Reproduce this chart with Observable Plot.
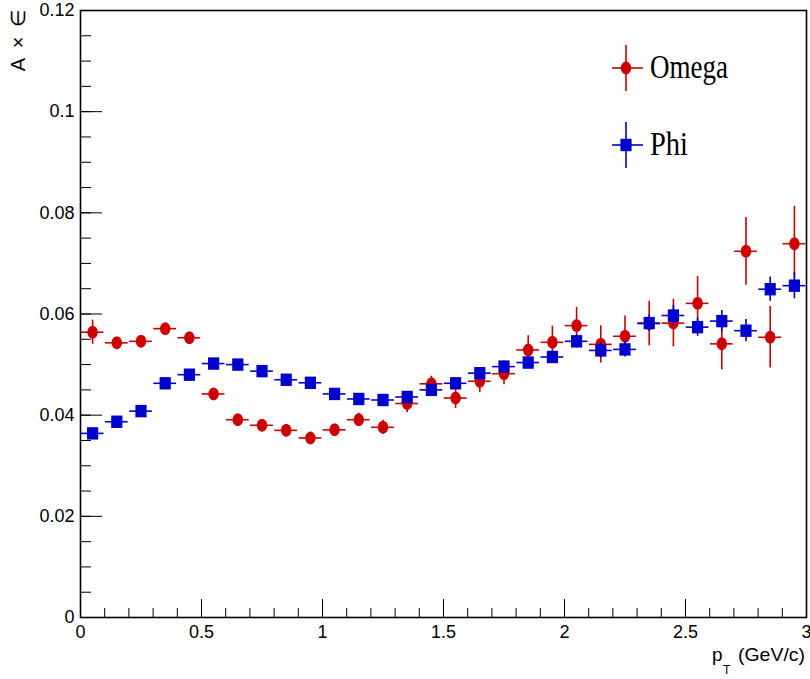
<!DOCTYPE html>
<html>
<head>
<meta charset="utf-8">
<script src="https://cdn.jsdelivr.net/npm/d3@7"></script>
<script src="https://cdn.jsdelivr.net/npm/@observablehq/plot@0.6"></script>
<style>
  body { margin: 0; background: #fff; }
  #chart { position: relative; width: 810px; height: 679px; }
</style>
</head>
<body>
<div id="chart"></div>
<script>
// ---- data ----
const ptBins = [0.05, 0.15, 0.25, 0.35, 0.45, 0.55, 0.65, 0.75, 0.85, 0.95,
                1.05, 1.15, 1.25, 1.35, 1.45, 1.55, 1.65, 1.75, 1.85, 1.95,
                2.05, 2.15, 2.25, 2.35, 2.45, 2.55, 2.65, 2.75, 2.85, 2.95];
const binHalfWidth = 0.047;
const omegaValues = [0.0564, 0.0543, 0.0546, 0.0571, 0.0553, 0.0442, 0.0391, 0.0380, 0.0370, 0.0355,
                     0.0371, 0.0391, 0.0376, 0.0423, 0.0462, 0.0434, 0.0467, 0.0482, 0.0529, 0.0544,
                     0.0577, 0.0540, 0.0556, 0.0581, 0.0582, 0.0621, 0.0541, 0.0724, 0.0554, 0.0739];
const omegaErrors = [0.0024, 0.0010, 0.0010, 0.0010, 0.0010, 0.0008, 0.0007, 0.0007, 0.0007, 0.0007,
                     0.0010, 0.0013, 0.0014, 0.0018, 0.0015, 0.0021, 0.0022, 0.0022, 0.0028, 0.0032,
                     0.0036, 0.0037, 0.0040, 0.0044, 0.0047, 0.0053, 0.0051, 0.0067, 0.0061, 0.0074];
const phiValues = [0.0364, 0.0387, 0.0408, 0.0463, 0.0480, 0.0502, 0.0500, 0.0487, 0.0470, 0.0464,
                   0.0442, 0.0432, 0.0430, 0.0436, 0.0450, 0.0463, 0.0483, 0.0496, 0.0504, 0.0515,
                   0.0546, 0.0528, 0.0530, 0.0582, 0.0597, 0.0574, 0.0586, 0.0567, 0.0649, 0.0656];
const phiErrors = [0.0006, 0.0006, 0.0006, 0.0007, 0.0007, 0.0007, 0.0007, 0.0007, 0.0007, 0.0007,
                   0.0007, 0.0007, 0.0008, 0.0008, 0.0009, 0.0010, 0.0010, 0.0011, 0.0012, 0.0012,
                   0.0013, 0.0015, 0.0015, 0.0016, 0.0020, 0.0018, 0.0021, 0.0022, 0.0024, 0.0026];
const seriesNames = ["Omega", "Phi"];
const seriesColors = ["#cc0000", "#0000cc"];
const xTickLabels = [0, 0.5, 1, 1.5, 2, 2.5, 3];
const yTickLabels = [0, 0.02, 0.04, 0.06, 0.08, 0.1, 0.12];
const xTitle = "p";
const xTitleSub = "T";
const xTitleUnit = "(GeV/c)";
const yTitle = "A × ∈";

// ---- tables ----
const omega = ptBins.map((pt, i) => ({pt, val: omegaValues[i], err: omegaErrors[i]}));
const phi = ptBins.map((pt, i) => ({pt, val: phiValues[i], err: phiErrors[i]}));
const xMinor = d3.range(0, 3.0001, 0.1);
const yMinor = d3.range(0, 0.12001, 0.005);

// marker shapes (ROOT markers look slightly tall in the reference)
const ellipseSym = {draw(ctx) {
  const rx = 5.2, ry = 6.4, n = 28;
  for (let i = 0; i <= n; i++) {
    const a = i / n * 2 * Math.PI, px = rx * Math.cos(a), py = ry * Math.sin(a);
    if (i === 0) ctx.moveTo(px, py); else ctx.lineTo(px, py);
  }
  ctx.closePath();
}};
const rectSym = {draw(ctx) {
  const hw = 5.6, hh = 6.2;
  ctx.moveTo(-hw, -hh); ctx.lineTo(hw, -hh); ctx.lineTo(hw, hh); ctx.lineTo(-hw, hh); ctx.closePath();
}};

function errorMarks(data, color, sym) {
  return [
    Plot.ruleX(data, {x: "pt", y1: d => d.val - d.err, y2: d => d.val + d.err, stroke: color, strokeWidth: 1.6}),
    Plot.ruleY(data, {y: "val", x1: d => d.pt - binHalfWidth, x2: d => d.pt + binHalfWidth, stroke: color, strokeWidth: 1.6}),
    Plot.dot(data, {x: "pt", y: "val", symbol: sym, fill: color, stroke: "none"})
  ];
}

const fmt = d => String(d);

const plot = Plot.plot({
  width: 810,
  height: 679,
  marginLeft: 80,
  marginRight: 4,
  marginTop: 10,
  marginBottom: 62,
  style: {fontFamily: "'Liberation Sans', Arial, sans-serif", color: "black", background: "white"},
  x: {domain: [0, 3]},
  y: {domain: [0, 0.12]},
  marks: [
    Plot.axisX(xMinor, {tickSize: -9, fill: "none", label: null, strokeWidth: 1}),
    Plot.axisX(xTickLabels, {tickSize: -18, fill: "none", label: null, strokeWidth: 1}),
    Plot.axisX(xTickLabels, {tickSize: 0, tickPadding: 8, fontSize: 18, label: null, tickFormat: fmt, stroke: "none"}),
    Plot.axisY(yMinor, {tickSize: -11, fill: "none", label: null, strokeWidth: 1}),
    Plot.axisY(yTickLabels, {tickSize: -22, fill: "none", label: null, strokeWidth: 1}),
    Plot.axisY(yTickLabels, {tickSize: 0, tickPadding: 6, fontSize: 18, label: null, tickFormat: fmt, stroke: "none"}),
    ...errorMarks(omega, seriesColors[0], ellipseSym),
    ...errorMarks(phi, seriesColors[1], rectSym),
    Plot.frame({stroke: "black", strokeWidth: 1.6})
  ]
});

document.getElementById("chart").appendChild(plot);

// ---- titles & legend ----
const svg = d3.select(plot);
const font = "'Liberation Sans', Arial, sans-serif";

svg.append("text")
  .attr("x", 712).attr("y", 661)
  .attr("text-anchor", "start")
  .attr("font-family", font).attr("font-size", 19).attr("fill", "black")
  .text(xTitle);
svg.append("text")
  .attr("x", 723).attr("y", 674)
  .attr("text-anchor", "start")
  .attr("font-family", font).attr("font-size", 12).attr("fill", "black")
  .text(xTitleSub);
svg.append("text")
  .attr("x", 805).attr("y", 661)
  .attr("text-anchor", "end")
  .attr("font-family", font).attr("font-size", 19).attr("fill", "black")
  .attr("textLength", 67).attr("lengthAdjust", "spacingAndGlyphs")
  .text(xTitleUnit);

svg.append("text")
  .attr("transform", "translate(25,10) rotate(-90)")
  .attr("text-anchor", "end")
  .attr("font-family", font).attr("font-size", 20).attr("fill", "black")
  .attr("xml:space", "preserve")
  .text(yTitle.replace(/ /g, "\u2009 "));

const legendRows = [
  {name: seriesNames[0], color: seriesColors[0], sym: ellipseSym, cy: 68},
  {name: seriesNames[1], color: seriesColors[1], sym: rectSym, cy: 145}
];
const legendTextLen = {Omega: 78, Phi: 38};
legendRows.forEach(r => {
  const g = svg.append("g").attr("transform", `translate(626,${r.cy})`);
  g.append("line").attr("x1", 0).attr("x2", 0).attr("y1", -23).attr("y2", 23)
    .attr("stroke", r.color).attr("stroke-width", 1.6);
  g.append("line").attr("x1", -14).attr("x2", 17).attr("y1", 0).attr("y2", 0)
    .attr("stroke", r.color).attr("stroke-width", 1.6);
  const p = d3.path(); r.sym.draw(p);
  g.append("path").attr("d", p.toString()).attr("fill", r.color);
  svg.append("text")
    .attr("x", 650).attr("y", r.cy + 10)
    .attr("text-anchor", "start")
    .attr("font-family", "'Liberation Serif', 'Times New Roman', serif")
    .attr("font-size", 33).attr("fill", "black")
    .attr("textLength", legendTextLen[r.name]).attr("lengthAdjust", "spacingAndGlyphs")
    .text(r.name);
});
</script>
</body>
</html>
